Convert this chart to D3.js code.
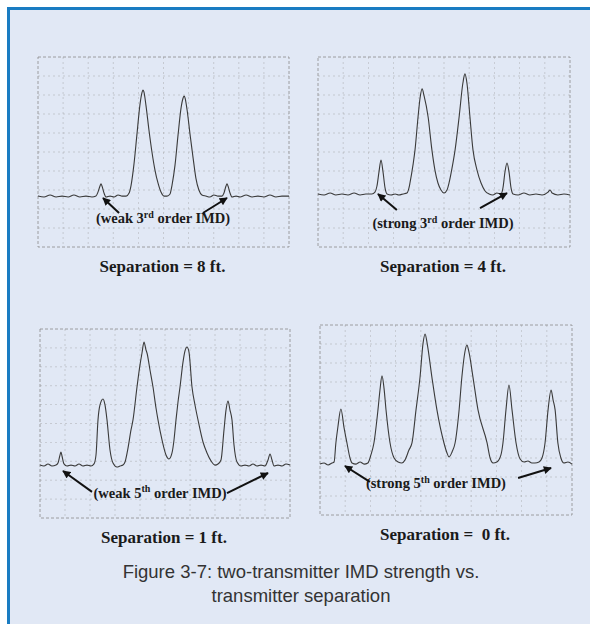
<!DOCTYPE html>
<html><head><meta charset="utf-8">
<script src="https://cdn.jsdelivr.net/npm/d3@7"></script>
<style>body{margin:0;background:#fff}svg text{white-space:pre}</style></head>
<body><svg id="c" width="590" height="624"></svg>
<script>
// ---- data: spectrum traces [span %, level dB] ----
const trace8ft = [[0,-73.2],[2.4,-73.7],[4.8,-72.6],[7.2,-73.7],[9.6,-73.2],[12,-73.7],[14.3,-72.6],[16.7,-73.7],[19.1,-73.2],[21.5,-73.7],[23.1,-73.2],
[23.9,-71.1],[24.7,-67.9],[25.1,-66.8],[25.5,-67.9],[26.3,-71.6],[27.1,-73.7],[28.7,-73.2],[30.3,-73.7],[31.9,-72.6],[33.5,-73.2],[35.1,-73.2],[36.3,-71.6],
[37.1,-67.4],[38.2,-56.8],[39.4,-41],[40.6,-25.3],[41.4,-18.9],[41.8,-17.4],[42.2,-18.4],[43,-25.3],[44.2,-38.4],[45.4,-50],[46.6,-59.5],[47.8,-66.3],[49,-71.1],[50.2,-73.2],[51.4,-73.2],[52.6,-72.1],
[53.4,-67.4],[54.6,-56.8],[55.8,-41],[57,-26.8],[57.8,-21.6],[58.2,-20.5],[58.6,-21.6],[59.4,-27.9],[60.6,-41],[61.8,-53.2],[62.9,-63.7],[64.1,-70],[65.3,-72.6],[66.9,-73.2],
[68.5,-73.7],[70.1,-72.6],[71.7,-73.2],[73.3,-73.2],[74.1,-71.6],[74.9,-67.9],[75.3,-66.8],[75.7,-67.9],[76.5,-71.6],[77.3,-73.7],[78.9,-73.2],[80.5,-73.7],[82.9,-72.6],[85.3,-73.7],[87.6,-73.2],[90,-73.7],[92.4,-72.6],[94.8,-73.7],[97.2,-73.2],[100,-73.2]];

const trace4ft = [[0,-72.1],[2.4,-72.6],[4.8,-71.6],[7.1,-72.6],[9.5,-72.1],[11.9,-72.6],[14.3,-71.6],[16.7,-72.6],[19,-72.1],[21.4,-72.1],[22.6,-71.1],[23.4,-67.9],[24.2,-60.5],[25,-54.2],[25.8,-60.5],[26.6,-68.9],[27.4,-72.1],
[29,-72.6],[30.6,-72.1],[32.1,-72.6],[33.7,-72.1],[35.3,-71.6],[36.1,-68.9],[36.5,-66.3],[37.7,-56.8],[38.5,-48.9],[39.7,-31.6],[40.5,-21.6],[41.3,-16.8],[42.1,-20.5],[43.7,-31.6],[45.2,-48.9],[46.4,-59.5],[47.6,-66.3],[48.8,-70],[50,-71.6],
[51.2,-70],[52,-66.3],[53.2,-58.4],[54.4,-48.9],[56,-31.6],[57.5,-13.7],[58.3,-8.9],[59.1,-13.7],[60.3,-31.6],[61.5,-48.9],[63.1,-59.5],[64.7,-66.3],[66.3,-70.5],[67.9,-72.1],[69.4,-72.6],[71,-71.6],
[72.6,-72.1],[73.4,-68.9],[74.2,-60.5],[75,-55.8],[75.8,-60.5],[76.6,-68.9],[77.4,-72.1],[79.4,-72.6],[81.7,-71.6],[84.1,-72.6],[86.5,-72.1],[88.9,-72.6],[91.3,-71.1],[92.1,-70],[92.9,-71.6],[95.2,-72.6],[97.6,-72.1],[100,-72.6]];

const trace1ft = [[0,-72],[1.6,-72.5],[3.2,-71.4],[4.8,-72.5],[6.4,-72],[7.2,-70.9],[8,-66.7],[8.4,-65.1],[8.8,-67.2],[9.6,-71.4],[10.8,-72.5],[12.4,-72],[14,-72.5],[15.6,-71.4],[17.2,-72.5],[18.8,-72],[20.4,-72.5],[21.6,-71.4],
[22.4,-66.7],[23.2,-48.1],[24,-40.2],[25.2,-37],[26,-40.2],[26.8,-48.1],[28,-64],[29.2,-70.9],[30.8,-73],[32,-72.5],[33.2,-72],
[34,-70.4],[35.2,-63],[36.4,-53.4],[37.2,-48.1],[38.8,-30.7],[40,-19],[40.8,-12.7],[41.6,-6.9],[42.4,-11.1],[42.8,-12.7],[44,-21.7],[45.2,-30.7],[46.4,-41.8],[47.2,-48.1],[48.8,-58.7],[50.4,-66.7],[51.6,-68.8],
[52.8,-65.6],[53.6,-58.7],[54.4,-48.1],[55.2,-38.6],[56,-30.7],[57.2,-17.5],[58,-11.6],[58.8,-9.5],[59.6,-12.2],[60.8,-30.7],[62,-40.2],[63.2,-48.1],[65.2,-59.8],[66.8,-65.6],[68.4,-69.8],[70,-72],
[71.2,-71.4],[72.4,-69.3],[73.6,-53.4],[74.4,-42.9],[75.2,-38.1],[76,-42.9],[76.8,-48.1],[77.6,-61.4],[78.8,-70.4],[80.4,-72.5],[82,-72],[83.6,-72.5],[85.2,-71.4],[86.8,-72.5],[88.4,-72],[90,-72.5],
[91.2,-69.3],[92,-66.1],[92.8,-69.3],[93.6,-72.5],[95.2,-72],[96.8,-72.5],[98.4,-71.4],[100,-72]];

const trace0ft = [[0,-73.2],[1.6,-72.6],[3.2,-73.7],[4.8,-72.6],[5.6,-72.1],[6.3,-62.1],[7.1,-53.7],[8.3,-44.2],[9.5,-53.7],[10.7,-62.1],[11.9,-70],[12.7,-72.6],[14.3,-73.2],[15.9,-72.1],[17.5,-73.2],[19,-72.6],
[20.2,-68.4],[21.4,-62.1],[23,-44.7],[23.8,-34.2],[24.6,-26.8],[25.4,-33.2],[26.2,-44.7],[27.8,-62.1],[29.4,-70],[31,-72.1],[32.5,-72.6],
[33.7,-71.1],[35.3,-65.8],[36.5,-62.1],[38.1,-44.7],[39.7,-27.4],[40.9,-9.5],[41.7,-4.7],[42.5,-9.5],[44.4,-27.4],[46.4,-44.7],[49.2,-62.1],[50.4,-67.4],[51.2,-69.5],
[52.4,-66.8],[53.6,-62.1],[55.2,-44.7],[56.3,-27.4],[57.5,-14.2],[58.3,-10.5],[59.1,-14.2],[60.7,-27.4],[62.7,-44.7],[66.3,-62.1],[67.5,-70],[68.7,-72.6],
[70.2,-72.1],[71.8,-68.4],[72.6,-62.1],[73.8,-44.7],[75,-31.6],[76.2,-44.7],[77.8,-62.1],[79.4,-70.5],[81,-72.1],[82.5,-71.6],[84.1,-72.6],[85.3,-72.6],[86.9,-72.1],
[88.1,-70],[89.3,-62.1],[90.5,-44.7],[91.7,-34.2],[92.5,-39.5],[93.3,-44.7],[94.4,-62.1],[95.6,-70],[96.8,-72.6],[98.4,-72.1],[100,-73.2]];

const traces = [trace8ft, trace4ft, trace1ft, trace0ft];
const captions = ["Separation = 8 ft.", "Separation = 4 ft.", "Separation = 1 ft.", "Separation =  0 ft."];
const noteStrength = ["weak", "strong", "weak", "strong"];
const noteOrder = ["3", "3", "5", "5"];
const noteSuffix = ["rd", "rd", "th", "th"];
const notePos = [[49.8,-87.4],[49.6,-90],[48,-89.4],[46,-85.8]];
// arrows: [fromX, fromY, toX, toY] in span %, dB
const arrowsL = [[32.3,-82.1,25.9,-74.2],[31.3,-80.5,23.8,-72.1],[20.8,-86.2,9.2,-75.1],[19.8,-82.6,9.9,-74.2]];
const arrowsR = [[65.7,-82.1,75.3,-74.2],[64.3,-79.5,75,-71.6],[74.8,-86.8,91.2,-76.2],[78.6,-80.5,91.7,-75.3]];
const gridDivs = d3.range(0, 101, 10);
const figTitle = ["Figure 3-7: two-transmitter IMD strength vs.", "transmitter separation"];

// ---- layout ----
const boxes = [{x:38,y:57,w:251,h:190},{x:318,y:57,w:252,h:190},{x:40,y:329,w:250,h:189},{x:320,y:325,w:252,h:190}];

const svg = d3.select("#c");
svg.append("rect").attr("x",0).attr("y",0).attr("width",590).attr("height",624).attr("fill","#fff");
svg.append("rect").attr("x",8).attr("y",8).attr("width",582).attr("height",616).attr("fill","#e1e8f5");
svg.append("rect").attr("x",7).attr("y",7).attr("width",583).attr("height",3).attr("fill","#1a7cc2");
svg.append("rect").attr("x",7).attr("y",7).attr("width",3).attr("height",617).attr("fill","#1a7cc2");

const defs = svg.append("defs");
defs.append("marker").attr("id","ah").attr("viewBox","0 0 10 10").attr("refX",9).attr("refY",5)
  .attr("markerWidth",9).attr("markerHeight",8).attr("markerUnits","userSpaceOnUse").attr("orient","auto")
  .append("path").attr("d","M0,0L10,5L0,10z").attr("fill","#111");

traces.forEach((tr, i) => {
  const b = boxes[i];
  const x = d3.scaleLinear().domain([0,100]).range([b.x, b.x + b.w]);
  const y = d3.scaleLinear().domain([-100,0]).range([b.y + b.h, b.y]);
  const g = svg.append("g");
  // grid
  g.selectAll(".gx").data(gridDivs.slice(1,-1)).enter().append("line")
    .attr("x1",d=>x(d)).attr("x2",d=>x(d)).attr("y1",y(0)).attr("y2",y(-100))
    .attr("stroke","#9a9a9a").attr("stroke-width",0.7).attr("stroke-dasharray","2,3").attr("opacity",0.55);
  g.selectAll(".gy").data(gridDivs.slice(1,-1)).enter().append("line")
    .attr("y1",d=>y(-d)).attr("y2",d=>y(-d)).attr("x1",x(0)).attr("x2",x(100))
    .attr("stroke","#9a9a9a").attr("stroke-width",0.7).attr("stroke-dasharray","2,3").attr("opacity",0.55);
  g.append("rect").attr("x",x(0)).attr("y",y(0)).attr("width",x(100)-x(0)).attr("height",y(-100)-y(0))
    .attr("fill","none").attr("stroke","#8a8a8a").attr("stroke-width",0.8).attr("stroke-dasharray","3,2");
  // trace
  const line = d3.line().x(d=>x(d[0])).y(d=>y(d[1])).curve(d3.curveMonotoneX);
  g.append("path").datum(tr).attr("d",line).attr("fill","none").attr("stroke","#3a3a3a").attr("stroke-width",1.1);
  // note text
  const t = g.append("text").attr("x",x(notePos[i][0])).attr("y",y(notePos[i][1])).attr("text-anchor","middle")
    .attr("font-family","Liberation Serif, Times New Roman, serif").attr("font-weight","bold").attr("font-size",14.5).attr("fill","#1a1a1a");
  t.append("tspan").text("(" + noteStrength[i] + " " + noteOrder[i]);
  t.append("tspan").attr("font-size",10).attr("dy",-5.5).text(noteSuffix[i]);
  t.append("tspan").attr("dy",5.5).text(" order IMD)");
  // arrows
  [arrowsL[i], arrowsR[i]].forEach(a => {
    g.append("line").attr("x1",x(a[0])).attr("y1",y(a[1])).attr("x2",x(a[2])).attr("y2",y(a[3]))
      .attr("stroke","#111").attr("stroke-width",2).attr("marker-end","url(#ah)");
  });
  // caption
  svg.append("text").attr("x",b.x + b.w/2 - 1).attr("y",b.y + b.h + 25).attr("text-anchor","middle")
    .attr("font-family","Liberation Serif, Times New Roman, serif").attr("font-weight","bold").attr("font-size",17).attr("fill","#1a1a1a")
    .text(captions[i]);
});

figTitle.forEach((s, k) => {
  svg.append("text").attr("x",301).attr("y",578 + k*24).attr("text-anchor","middle")
    .attr("font-family","Liberation Sans, Arial, sans-serif").attr("font-size",18.5).attr("fill","#333").text(s);
});
</script></body></html>
